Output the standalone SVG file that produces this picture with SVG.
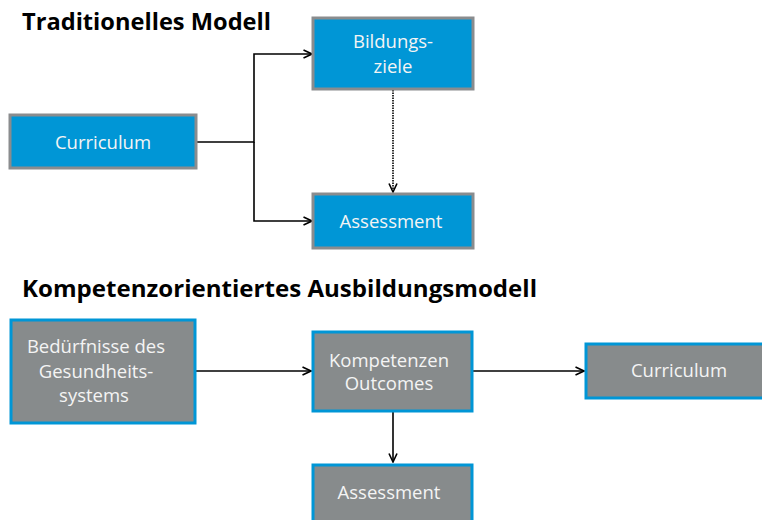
<svg xmlns="http://www.w3.org/2000/svg" width="762" height="520" viewBox="0 0 762 520">
<defs>
<style>
.title{font-family:"Open Sans","Liberation Sans",sans-serif;font-weight:bold;font-size:23px;fill:#000}
.blue{fill:#0096d6;stroke:#8a8c8e;stroke-width:3}
.gray{fill:#878b8c;stroke:#0096d6;stroke-width:3}
.lbl{font-family:"Open Sans","Liberation Sans",sans-serif;font-size:18.5px;fill:#f4f4f4;text-anchor:middle}
.con{fill:none;stroke:#000;stroke-width:1.6}
</style>
<marker id="arr" viewBox="0 0 10 10" refX="9.5" refY="5" markerWidth="10" markerHeight="10" markerUnits="userSpaceOnUse" orient="auto">
<path d="M1,1 L9.5,5 L1,9" fill="none" stroke="#000" stroke-width="1.6"/>
</marker>
</defs>
<text class="title" x="22" y="30" textLength="249" lengthAdjust="spacingAndGlyphs">Traditionelles Modell</text>
<text class="title" x="22" y="297" textLength="515" lengthAdjust="spacingAndGlyphs">Kompetenzorientiertes Ausbildungsmodell</text>
<g id="connectors">
<path class="con" d="M196,142 H254 V54 H312" marker-end="url(#arr)"/>
<path class="con" d="M254,142 V221 H312" marker-end="url(#arr)"/>
<path class="con" d="M393,90 V192" stroke-dasharray="1.5,1" marker-end="url(#arr)"/>
<path class="con" d="M196,371 H311" marker-end="url(#arr)"/>
<path class="con" d="M473,371 H584" marker-end="url(#arr)"/>
<path class="con" d="M393,412 V462" marker-end="url(#arr)"/>
</g>
<g id="t-curriculum">
<rect class="blue" x="10" y="115" width="186" height="53"/>
<text class="lbl" x="103" y="149">Curriculum</text>
</g>
<g id="t-bildungsziele">
<rect class="blue" x="313" y="18" width="160" height="71"/>
<text class="lbl" x="393" y="48">Bildungs-</text>
<text class="lbl" x="393" y="73">ziele</text>
</g>
<g id="t-assessment">
<rect class="blue" x="313" y="194" width="160" height="54"/>
<text class="lbl" x="391" y="228">Assessment</text>
</g>
<g id="k-beduerfnisse">
<rect class="gray" x="11" y="320" width="184" height="103"/>
<text class="lbl" x="96" y="353">Bedürfnisse des</text>
<text class="lbl" x="96" y="378">Gesundheits-</text>
<text class="lbl" x="94" y="402">systems</text>
</g>
<g id="k-kompetenzen">
<rect class="gray" x="313" y="332" width="159" height="79"/>
<text class="lbl" x="389" y="367">Kompetenzen</text>
<text class="lbl" x="389" y="390">Outcomes</text>
</g>
<g id="k-curriculum">
<rect class="gray" x="586" y="344" width="180" height="54"/>
<text class="lbl" x="679" y="377">Curriculum</text>
</g>
<g id="k-assessment">
<rect class="gray" x="313" y="465" width="159" height="58"/>
<text class="lbl" x="389" y="499">Assessment</text>
</g>
</svg>
